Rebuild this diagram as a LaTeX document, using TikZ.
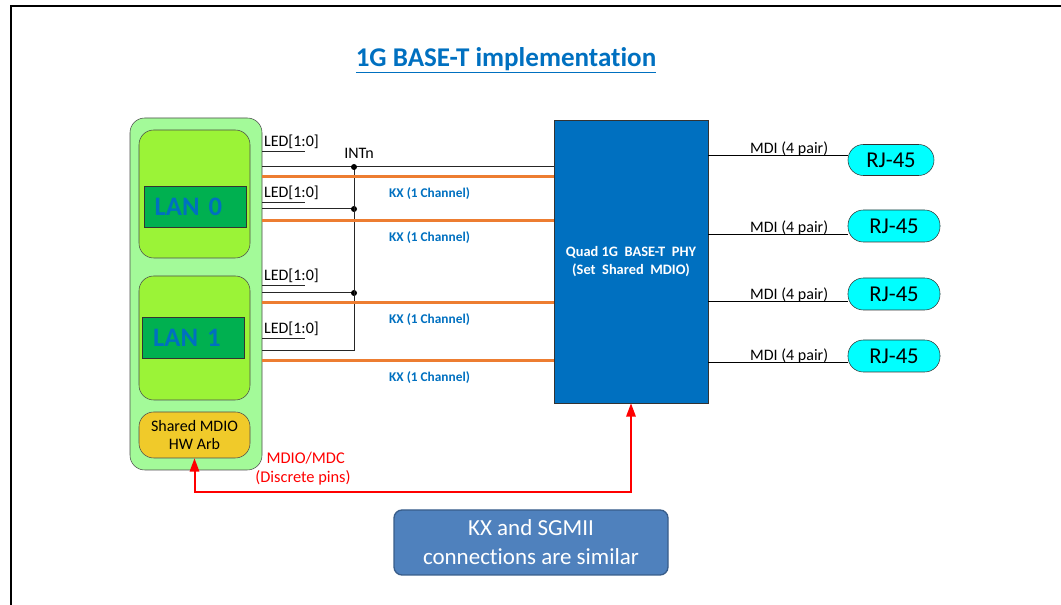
\documentclass[tikz,border=0pt]{standalone}
\usepackage{fontspec}
\setmainfont[Ligatures=NoCommon]{Carlito}
\usepackage{xcolor}
\usepackage{tikz}
\usetikzlibrary{positioning, arrows.meta, calc}

\definecolor{nicgreen}{RGB}{163,250,153}
\definecolor{lanlime}{RGB}{155,243,55}
\definecolor{lanid}{RGB}{0,176,80}
\definecolor{intelblue}{RGB}{0,112,192}
\definecolor{kxorange}{RGB}{237,125,49}
\definecolor{arbgold}{RGB}{240,202,42}
\definecolor{rjcyan}{RGB}{0,255,255}
\definecolor{noteblue}{RGB}{79,129,189}
\definecolor{noteedge}{RGB}{56,93,138}

\begin{document}
\begin{tikzpicture}[
    x=0.75pt, y=-0.75pt,
    every node/.style={inner sep=0pt, font=\fontsize{12pt}{13pt}\selectfont},
    nicbox/.style={draw=black!70, rounded corners=11pt, fill=nicgreen,
                   minimum width=99pt, minimum height=264pt},
    lanbox/.style={draw=black!70, rounded corners=11pt, fill=lanlime,
                   minimum width=83.25pt},
    lanid/.style={draw=black!80, fill=lanid, text=intelblue,
                  minimum height=30.5pt, inner xsep=8pt, text width=60.5pt,
                  align=left, font=\fontsize{20pt}{22pt}\selectfont\bfseries},
    arbbox/.style={draw=black!70, rounded corners=11pt, fill=arbgold,
                   minimum width=83.25pt, minimum height=34.5pt, align=center,
                   font=\fontsize{12pt}{14pt}\selectfont},
    phybox/.style={draw=black!80, fill=intelblue, text=white, align=center,
                   minimum width=115.5pt, minimum height=212.25pt,
                   font=\fontsize{10.8pt}{13.5pt}\selectfont\bfseries},
    rjbox/.style={draw=black!80, rounded corners=11.5pt, fill=rjcyan,
                  minimum width=69pt, minimum height=24pt,
                  font=\fontsize{17pt}{19pt}\selectfont},
    notebox/.style={draw=noteedge, line width=1pt, rounded corners=6pt,
                    fill=noteblue, text=white, align=center,
                    minimum width=205.5pt, minimum height=48.75pt,
                    font=\fontsize{17.25pt}{21.75pt}\selectfont},
    sig/.style={draw=black!85, line width=0.75pt},
    kxline/.style={draw=kxorange, line width=2.25pt},
    kxtext/.style={text=intelblue, font=\fontsize{10pt}{12pt}\selectfont\bfseries},
    mditext/.style={font=\fontsize{12pt}{13pt}\selectfont},
    mdioline/.style={draw=red, line width=1.5pt,
                     {Triangle[length=10pt, width=7pt]}-{Triangle[length=10pt, width=7pt]}},
    redtext/.style={text=red, align=center, font=\fontsize{12.3pt}{14.25pt}\selectfont},
    dot/.style={circle, fill=black, minimum size=4.5pt},
]
\useasboundingbox (0,0) rectangle (1061,605);

% frame
\draw[line width=1.5pt] (11,605) -- (11,6) -- (1061,6);

% title
\node[text=intelblue, font=\fontsize{20.3pt}{22pt}\selectfont\bfseries]
     (title) at (506,60) {\underline{1G BASE-T implementation}};

% controller with two LAN ports
\node[nicbox] (nic) at (196,294) {};
\node[lanbox, minimum height=96pt] (lan0) at (194.5,194) {};
\node[lanid] (lan0id) at (195,206.5) {LAN 0};
\node[lanbox, minimum height=93pt] (lan1) at (194.5,338) {};
\node[lanid] (lan1id) at (193.5,338) {LAN 1};
\node[arbbox] (mdio) at (194.5,435) {Shared MDIO\\HW Arb};

% PHY and connectors
\node[phybox] (phy) at (631,261.5) {Quad 1G\ \ BASE-T\ \ PHY\\(Set\ \ Shared\ \ MDIO)};
\node[rjbox, minimum width=64.5pt, minimum height=23.25pt] (rj1) at (891,160) {RJ-45};
\node[rjbox] (rj2) at (894,226) {RJ-45};
\node[rjbox] (rj3) at (894,294) {RJ-45};
\node[rjbox] (rj4) at (894,356) {RJ-45};

\node[notebox] (note) at (531,542.5) {KX and SGMII\\connections are similar};

% LED stubs
\foreach \y in {152,203,286,339}
  \draw[sig] (nic.east |- 0,\y) -- ++(43,0)
    node[pos=0, anchor=south west, xshift=1pt, yshift=2.25pt] {LED[1:0]};

% INTn bus
\coordinate (bus) at (354,167);
\draw[sig] (nic.east |- bus) -- (phy.west |- bus);
\node[anchor=base west] (intn) at (344,159) {INTn};
\foreach \y in {209,293} {
  \draw[sig] (nic.east |- 0,\y) -- (bus |- 0,\y);
  \node[dot] at (bus |- 0,\y) {};
}
\draw[sig] (nic.east |- 0,351) -| (bus);
\node[dot] at (bus) {};

% KX lanes
\foreach \y in {177,221,303,361}
  \draw[kxline] (nic.east |- 0,\y) -- (phy.west |- 0,\y)
    node[kxtext, pos=0.43, anchor=west, yshift=-12.5pt] {KX (1 Channel)};

% MDI
\foreach \r/\s in {rj1/3pt, rj2/-6.75pt, rj3/-6pt, rj4/-5.25pt}
  \draw[sig, draw=black] ([yshift=\s]\r.west) -- ([yshift=\s]\r.west -| phy.east)
    node[mditext, pos=0.42, anchor=base, yshift=1.5pt] {MDI (4 pair)};

% MDIO / MDC
\coordinate (mdiorun) at (0,492);
\draw[mdioline] (mdio.south) -- (mdio.south |- mdiorun) -| (phy.south);
\node[redtext] (mdiotext) at (303,469) {\hspace*{4pt}MDIO/MDC\\(Discrete pins)};

\end{tikzpicture}
\end{document}
